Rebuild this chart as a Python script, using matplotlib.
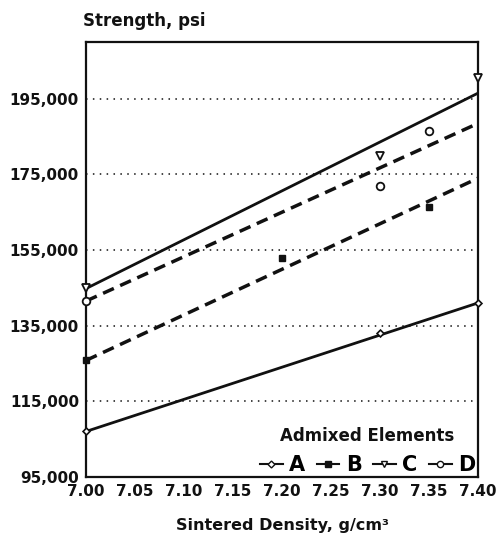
import matplotlib
matplotlib.use("Agg")
import matplotlib.pyplot as plt
from matplotlib.ticker import FuncFormatter

# Measured strength points per admixed element
density_a = [7.00, 7.30, 7.40]
strength_a = [107000, 133000, 141000]
density_b = [7.00, 7.20, 7.35]
strength_b = [126000, 153000, 166500]
density_c = [7.00, 7.30, 7.40]
strength_c = [145000, 180000, 200500]
density_d = [7.00, 7.30, 7.35]
strength_d = [141500, 172000, 186500]

# Trend-line end values at 7.00 and 7.40 g/cm3
trend_x = [7.00, 7.40]
trend_a = [107000, 141000]
trend_b = [125800, 174000]
trend_c = [144800, 196500]
trend_d = [141500, 188500]

labels = ["A", "B", "C", "D"]
x_ticks = [7.00, 7.05, 7.10, 7.15, 7.20, 7.25, 7.30, 7.35, 7.40]
y_ticks = [95000, 115000, 135000, 155000, 175000, 195000]

plt.rcParams["font.family"] = ["DejaVu Sans"]
plt.rcParams["font.weight"] = "bold"

fig = plt.figure(figsize=(5.0, 5.4), dpi=100)
ax = fig.add_axes([0.172, 0.117, 0.784, 0.805])

ink = "#111111"
dash = (0, (3.4, 2.0))

# trend lines
ax.plot(trend_x, trend_a, color=ink, lw=2.0, zorder=3)
ax.plot(trend_x, trend_b, color=ink, lw=2.5, linestyle=dash, zorder=3)
ax.plot(trend_x, trend_c, color=ink, lw=2.0, zorder=3)
ax.plot(trend_x, trend_d, color=ink, lw=2.5, linestyle=dash, zorder=3)

# measured points
ax.plot(density_a, strength_a, linestyle="none", marker="D", ms=3.5,
        mfc="white", mec=ink, mew=1.2, zorder=4, clip_on=False)
ax.plot(density_b, strength_b, linestyle="none", marker="s", ms=5,
        mfc=ink, mec=ink, zorder=4, clip_on=False)
ax.plot(density_c, strength_c, linestyle="none", marker="v", ms=5.5,
        mfc="white", mec=ink, mew=1.3, zorder=4, clip_on=False)
ax.plot(density_d, strength_d, linestyle="none", marker="o", ms=5.5,
        mfc="white", mec=ink, mew=1.3, zorder=4, clip_on=False)

# legend handles: short line with marker
h_a, = ax.plot([], [], color=ink, lw=1.5, marker="D", ms=3.5, mfc="white", mec=ink)
h_b, = ax.plot([], [], color=ink, lw=1.5, marker="s", ms=4.5, mfc=ink, mec=ink)
h_c, = ax.plot([], [], color=ink, lw=1.5, marker="v", ms=4.5, mfc="white", mec=ink)
h_d, = ax.plot([], [], color=ink, lw=1.5, marker="o", ms=4.5, mfc="white", mec=ink)
leg = ax.legend([h_a, h_b, h_c, h_d], labels, ncol=4, loc="lower right",
                bbox_to_anchor=(1.025, -0.025), frameon=False,
                title="Admixed Elements",
                title_fontproperties={"size": 12, "weight": "bold"},
                prop={"size": 15, "weight": "bold"}, handlelength=1.1,
                handletextpad=0.3, columnspacing=0.55, borderaxespad=0.2)
leg.get_title().set_color(ink)

ax.set_xlim(7.00, 7.40)
ax.set_ylim(95000, 210000)
ax.set_xticks(x_ticks)
ax.set_yticks(y_ticks)
ax.xaxis.set_major_formatter(FuncFormatter(lambda v, p: f"{v:.2f}"))
ax.yaxis.set_major_formatter(FuncFormatter(lambda v, p: f"{int(round(v)):,}"))
ax.tick_params(axis="both", length=0, labelsize=11, pad=5, colors=ink)
for lab in ax.get_xticklabels() + ax.get_yticklabels():
    lab.set_fontweight("bold")

# dotted horizontal gridlines
for y in y_ticks[1:]:
    ax.axhline(y, color=ink, lw=1.1, linestyle=(0, (1, 3.5)), zorder=1)

for side in ["left", "right", "top", "bottom"]:
    ax.spines[side].set_linewidth(1.6)
    ax.spines[side].set_color(ink)

fig.text(0.166, 0.962, "Strength, psi", fontsize=12, fontweight="bold",
         ha="left", va="center", color=ink)
ax.set_xlabel("Sintered Density, g/cm\u00b3", fontsize=11.5, fontweight="bold",
              labelpad=14, color=ink)

fig.savefig("out.png", dpi=100)
